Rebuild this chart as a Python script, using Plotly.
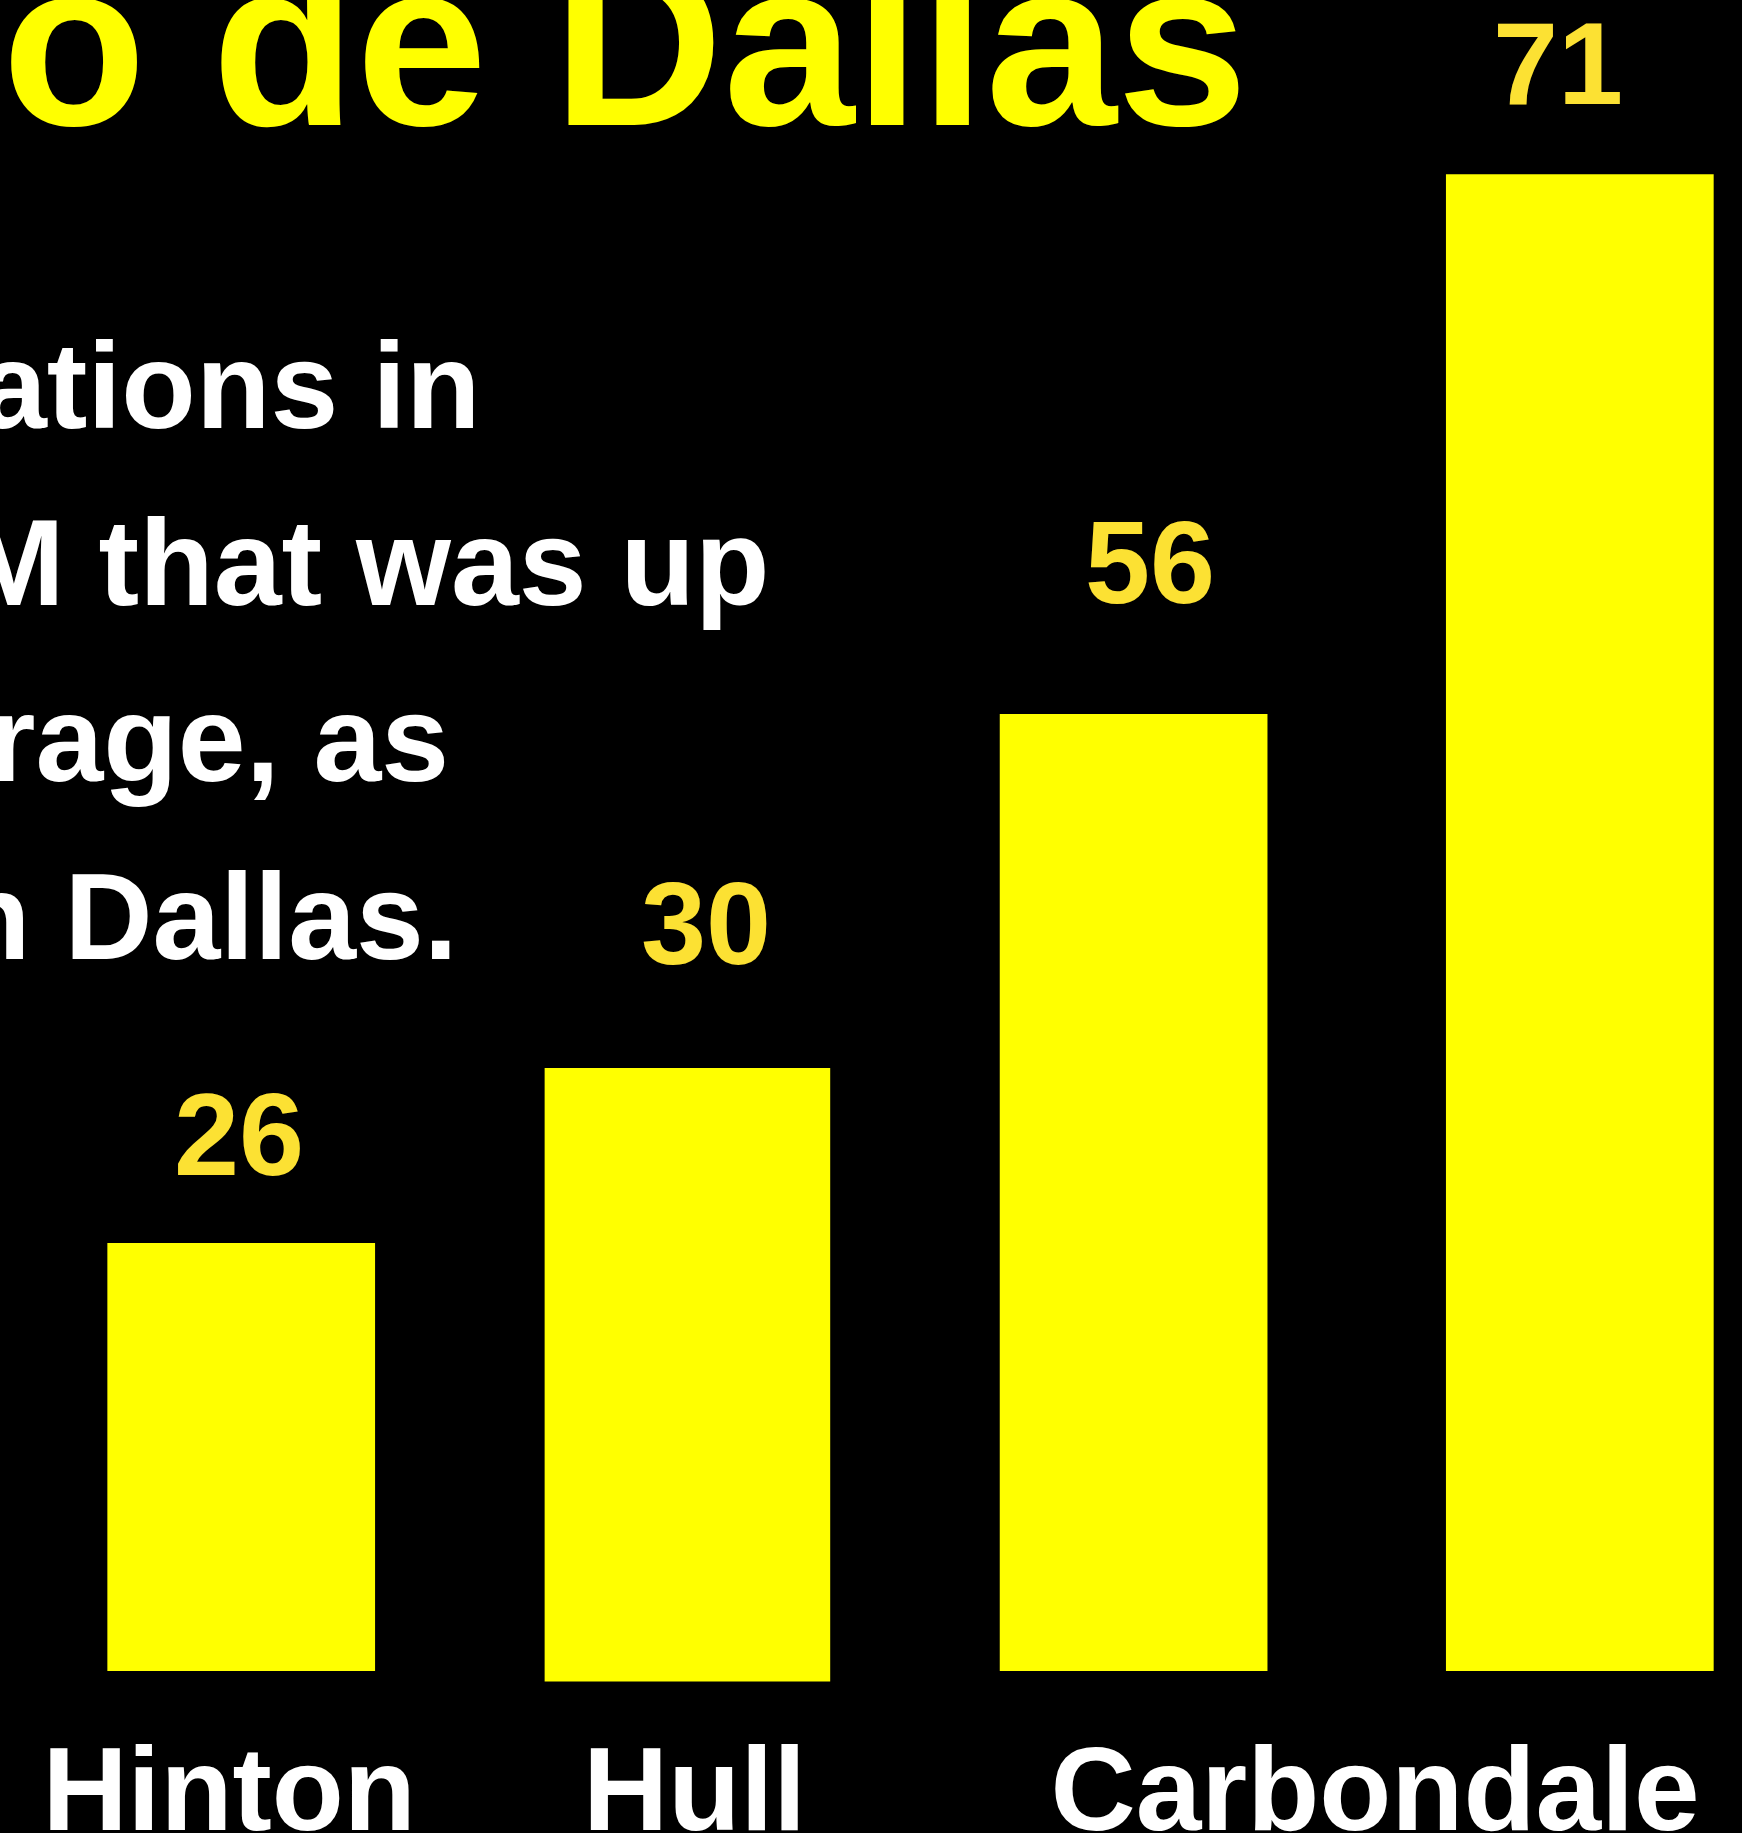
import plotly.graph_objects as go

# ---- data ----
# The drawn bars are not to scale with their printed values, so the bar
# heights (tops/bottoms, in chart units) are read separately from the labels.
bar_tops = [20.3, 28.6, 45.4, 71.0]
bar_bottoms = [0.0, -0.5, 0.0, 0.0]
value_labels = ["26", "30", "56", "71"]
category_labels = ["Hinton", "Hull", "Carbondale"]
title_text = "o de Dallas"
subtitle_lines = ["ations in", "M that was up", "rage, as", "n Dallas."]

W, H = 1742, 1833
FONT = "Liberation Sans, Arial, Helvetica, sans-serif"
BAR_YELLOW = "#FFFF00"
LABEL_YELLOW = "#FCE133"

bar_pos = list(range(len(bar_tops)))
heights = [t - b for t, b in zip(bar_tops, bar_bottoms)]

fig = go.Figure()
fig.add_trace(go.Bar(
    x=bar_pos,
    y=heights,
    base=bar_bottoms,
    width=[0.6, 0.64, 0.6, 0.6],
    marker=dict(color=BAR_YELLOW, line=dict(width=0)),
    hoverinfo="skip",
    showlegend=False,
))

annotations = []
# value labels above bars
label_yshift = [43, 79, 86, 45]
label_xshift = [-2, 19, 16, -22]
for i, (txt, top) in enumerate(zip(value_labels, bar_tops)):
    annotations.append(dict(
        x=bar_pos[i], y=top, xref="x", yref="y",
        text=txt, showarrow=False, xanchor="center", yanchor="bottom",
        yshift=label_yshift[i], xshift=label_xshift[i],
        borderpad=0, borderwidth=0,
        font=dict(family=FONT, size=117, color=LABEL_YELLOW, weight="bold"),
    ))

# big yellow title (cut off at the left/top)
annotations.append(dict(
    x=0.00115, y=0.9750, xref="paper", yref="paper",
    text=title_text, showarrow=False, xanchor="left", yanchor="middle",
    borderpad=0, borderwidth=0,
    font=dict(family=FONT, size=236, color=BAR_YELLOW, weight="bold"),
))

# white subtitle lines (cut off at the left)
sub_x = [0.2761, 0.4420, 0.2575, 0.2630]
sub_y = [0.7729, 0.6688, 0.5653, 0.4606]
for txt, xx, yy in zip(subtitle_lines, sub_x, sub_y):
    annotations.append(dict(
        x=xx, y=yy, xref="paper", yref="paper",
        text=txt, showarrow=False, xanchor="right", yanchor="middle",
        borderpad=0, borderwidth=0,
        font=dict(family=FONT, size=122, color="#FFFFFF", weight="bold"),
    ))

fig.update_layout(
    width=W, height=H,
    margin=dict(l=0, r=0, t=0, b=133, pad=0, autoexpand=False),
    paper_bgcolor="#000000",
    plot_bgcolor="#000000",
    bargap=0.4,
    annotations=annotations,
    xaxis=dict(
        range=[-0.5406, 3.3635],
        tickmode="array",
        tickvals=[-0.027, 1.016, 2.541],
        ticktext=category_labels,
        ticks="",
        ticklabelstandoff=11,
        tickfont=dict(family=FONT, size=118, color="#FFFFFF", weight="bold"),
        showgrid=False, zeroline=False, showline=False,
        automargin=False,
        fixedrange=True,
    ),
    yaxis=dict(
        range=[-1.376, 79.27],
        visible=False,
        showgrid=False, zeroline=False,
        automargin=False,
        fixedrange=True,
    ),
)

fig.write_html(
    "out.html",
    config={"displayModeBar": False},
    post_script="document.body.style.margin='0';document.body.style.background='#000';",
)
